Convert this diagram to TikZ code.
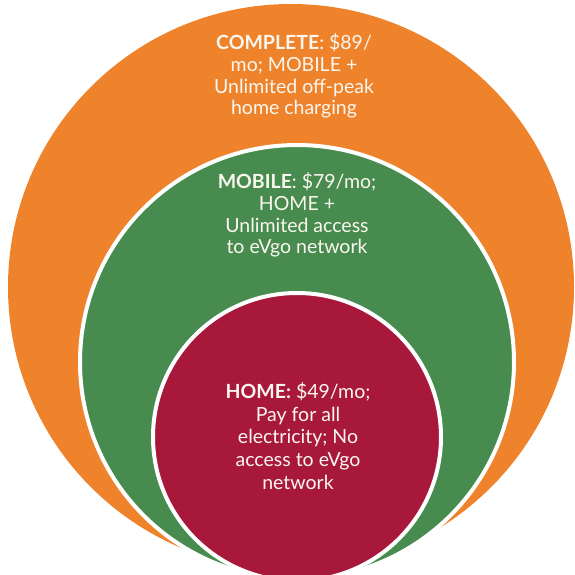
\documentclass[tikz,border=0pt]{standalone}
\usepackage{fontspec}
\setmainfont{Lato}
\definecolor{planorange}{HTML}{EE832C}
\definecolor{plangreen}{HTML}{478C4E}
\definecolor{planred}{HTML}{A8183B}
\definecolor{planwhite}{HTML}{FBF6EF}
\begin{document}
\begin{tikzpicture}[x=1pt,y=-1pt,
    tier/.style={align=center, text=planwhite, inner sep=0pt,
      font=\fontsize{19.5}{21.8}\selectfont},
    ring/.style={draw=white, line width=4pt}]
  \useasboundingbox (0,0) rectangle (575,575);
  \clip (0,0) rectangle (575,575);
  % nested plans
  \fill[planorange] (291,287) circle (283pt);
  \filldraw[ring, fill=plangreen] (297,362) circle (217pt);
  \filldraw[ring, fill=planred] (297,437) circle (144pt);
  % labels
  \node[tier] (complete) at (294,76) {\textbf{COMPLETE}: \$89/\\mo; MOBILE +\\Unlimited off-peak\\home charging};
  \node[tier] (mobile) at (297,215) {\textbf{MOBILE}: \$79/mo;\\HOME +\\Unlimited access\\to eVgo network};
  \node[tier, font=\fontsize{19.5}{22.7}\selectfont] (home) at (298,436) {\textbf{HOME:} \$49/mo;\\Pay for all\\electricity; No\\access to eVgo\\network};
\end{tikzpicture}
\end{document}
